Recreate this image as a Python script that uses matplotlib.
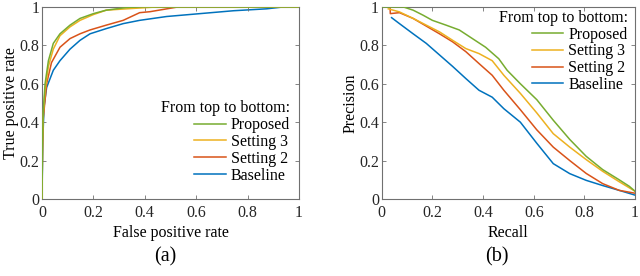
import matplotlib
matplotlib.use('Agg')
from matplotlib import pyplot as plt

# MATLAB default colours
blue = '#0072BD'
red = '#D95319'
yellow = '#EDB120'
green = '#77AC30'

# ROC curves
roc_prop_fpr = [0, 0.002, 0.005, 0.012, 0.025, 0.044, 0.07, 0.109, 0.148, 0.2, 0.25, 0.33, 0.38, 1.0]
roc_prop_tpr = [0, 0.30, 0.46, 0.60, 0.72, 0.81, 0.86, 0.905, 0.94, 0.965, 0.983, 0.997, 1.0, 1.0]

roc_set3_fpr = [0, 0.002, 0.005, 0.012, 0.025, 0.044, 0.07, 0.109, 0.148, 0.2, 0.25, 0.33, 0.45, 1.0]
roc_set3_tpr = [0, 0.28, 0.44, 0.566, 0.69, 0.78, 0.85, 0.896, 0.93, 0.96, 0.983, 0.99, 1.0, 1.0]

roc_set2_fpr = [0, 0.002, 0.005, 0.018, 0.037, 0.07, 0.109, 0.148, 0.187, 0.25, 0.316, 0.38, 0.42, 0.53, 1.0]
roc_set2_tpr = [0, 0.25, 0.42, 0.60, 0.71, 0.79, 0.835, 0.86, 0.88, 0.905, 0.93, 0.97, 0.975, 1.0, 1.0]

roc_base_fpr = [0, 0.002, 0.003, 0.008, 0.018, 0.044, 0.07, 0.109, 0.148, 0.187, 0.25, 0.316, 0.38, 0.485, 0.615, 0.745, 0.874, 0.94, 1.0]
roc_base_tpr = [0, 0.20, 0.30, 0.48, 0.58, 0.67, 0.72, 0.78, 0.826, 0.86, 0.887, 0.913, 0.93, 0.95, 0.965, 0.98, 0.99, 1.0, 1.0]

# Precision-recall curves
pr_prop_rec = [0, 0.085, 0.124, 0.163, 0.2, 0.254, 0.306, 0.358, 0.41, 0.462, 0.495, 0.547, 0.612, 0.677, 0.742, 0.807, 0.872, 0.937, 0.977, 1.0]
pr_prop_pre = [1.0, 1.0, 0.983, 0.957, 0.93, 0.905, 0.88, 0.835, 0.79, 0.73, 0.67, 0.60, 0.517, 0.41, 0.31, 0.222, 0.153, 0.10, 0.066, 0.04]

pr_set3_rec = [0.026, 0.07, 0.124, 0.176, 0.228, 0.28, 0.332, 0.384, 0.436, 0.482, 0.547, 0.612, 0.677, 0.742, 0.807, 0.872, 0.937, 1.0]
pr_set3_pre = [0.99, 0.974, 0.94, 0.905, 0.87, 0.826, 0.783, 0.757, 0.72, 0.644, 0.55, 0.448, 0.34, 0.27, 0.205, 0.144, 0.09, 0.04]

pr_set2_rec = [0.033, 0.034, 0.07, 0.124, 0.176, 0.228, 0.28, 0.332, 0.384, 0.436, 0.482, 0.547, 0.612, 0.677, 0.742, 0.807, 0.872, 0.937, 1.0]
pr_set2_pre = [1.0, 0.965, 0.97, 0.94, 0.90, 0.86, 0.818, 0.767, 0.705, 0.644, 0.566, 0.465, 0.36, 0.27, 0.20, 0.133, 0.08, 0.045, 0.03]

pr_base_rec = [0.039, 0.07, 0.124, 0.176, 0.228, 0.28, 0.332, 0.384, 0.436, 0.482, 0.547, 0.612, 0.677, 0.742, 0.807, 0.872, 0.937, 1.0]
pr_base_pre = [0.944, 0.913, 0.86, 0.81, 0.75, 0.69, 0.627, 0.566, 0.53, 0.47, 0.40, 0.29, 0.184, 0.132, 0.097, 0.07, 0.045, 0.02]

labels = ['Proposed', 'Setting 3', 'Setting 2', 'Baseline']
legend_title = 'From top to bottom:'

plt.rcParams['font.family'] = 'Liberation Serif'
plt.rcParams['font.size'] = 11.5

fig = plt.figure(figsize=(6.4, 2.76), dpi=100)
ax1 = fig.add_axes([0.0656, 0.279, 0.4016, 0.696])
ax2 = fig.add_axes([0.5964, 0.279, 0.396, 0.696])

lw = 1.1
ax1.plot(roc_prop_fpr, roc_prop_tpr, color=green, lw=lw, label=labels[0], zorder=4)
ax1.plot(roc_set3_fpr, roc_set3_tpr, color=yellow, lw=lw, label=labels[1], zorder=3)
ax1.plot(roc_set2_fpr, roc_set2_tpr, color=red, lw=lw, label=labels[2], zorder=2)
ax1.plot(roc_base_fpr, roc_base_tpr, color=blue, lw=lw, label=labels[3], zorder=1)

ax2.plot(pr_prop_rec, pr_prop_pre, color=green, lw=lw, label=labels[0], zorder=4)
ax2.plot(pr_set3_rec, pr_set3_pre, color=yellow, lw=lw, label=labels[1], zorder=3)
ax2.plot(pr_set2_rec, pr_set2_pre, color=red, lw=lw, label=labels[2], zorder=2)
ax2.plot(pr_base_rec, pr_base_pre, color=blue, lw=lw, label=labels[3], zorder=1)

ticks = [0, 0.2, 0.4, 0.6, 0.8, 1]
ticklabels = ['0', '0.2', '0.4', '0.6', '0.8', '1']
for ax in (ax1, ax2):
    ax.set_xlim(0, 1)
    ax.set_ylim(0, 1)
    ax.set_xticks(ticks)
    ax.set_xticklabels(ticklabels)
    ax.set_yticks(ticks)
    ax.set_yticklabels(ticklabels)
    ax.tick_params(direction='in', length=3, width=0.6, color='#707070',
                   top=True, right=True, labelcolor='#262626')
    ax.tick_params(axis='x', pad=4)
    ax.tick_params(axis='y', pad=2)
    for s in ax.spines.values():
        s.set_color('#707070')
        s.set_linewidth(0.8)

ax1.set_xlabel('False positive rate', labelpad=3)
ax1.set_ylabel('True positive rate', labelpad=0)
ax2.set_xlabel('Recall', labelpad=3)
ax2.set_ylabel('Precision', labelpad=0)

leg_kw = dict(title=legend_title, frameon=False, alignment='right',
              handlelength=2.0, handletextpad=0.3, labelspacing=0.05,
              borderpad=0, borderaxespad=0, fontsize=11.5, title_fontsize=11.5)
ax1.legend(loc='lower right', bbox_to_anchor=(0.965, 0.08), **leg_kw)
ax2.legend(loc='upper right', bbox_to_anchor=(0.97, 0.985), **leg_kw)

fig.text(0.258, 0.069, '(a)', ha='center', va='center', fontsize=14.5)
fig.text(0.776, 0.069, '(b)', ha='center', va='center', fontsize=14.5)

plt.savefig('out.png', dpi=100)
